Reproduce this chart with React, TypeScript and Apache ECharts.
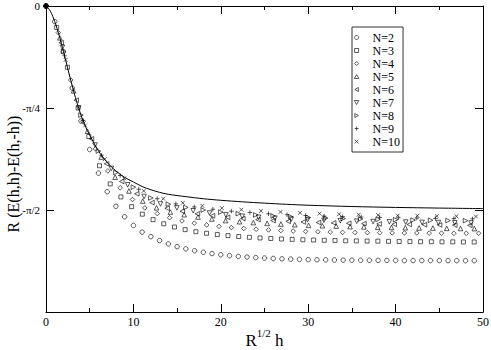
import React, { useEffect, useRef } from "react";
import * as echarts from "echarts";

// ---------- data ----------
const X_MIN = 0;
const X_MAX = 50;
const X_STEP = 10;
const Q = Math.PI / 4;
const Y_MIN = -3 * Q;
const Y_MAX = 0;
// labels for y ticks at -3π/4, -π/2, -π/4, 0
const Y_TICK_LABELS = ["", "-π/2", "-π/4", "0"];

const CURVE_X = [0, 0.5, 1, 1.5, 2, 2.5, 3, 3.5, 4, 4.5, 5, 6, 7, 8, 9, 10, 11, 12, 13, 14, 16, 18, 20, 22.5, 25, 27.5, 30, 35, 40, 45, 50];
const CURVE_Y = [0, -0.04, -0.12, -0.225, -0.35, -0.485, -0.615, -0.735, -0.84, -0.925, -0.995, -1.115, -1.205, -1.27, -1.32, -1.355, -1.39, -1.415, -1.435, -1.45, -1.468, -1.484, -1.496, -1.508, -1.518, -1.527, -1.534, -1.544, -1.551, -1.556, -1.56];

const N2_X = [1, 2, 3, 4, 5, 6, 7, 8, 9, 10, 11, 12, 13, 14, 15, 16, 17, 18, 19, 20, 21, 22, 23, 24, 25, 26, 27, 28, 29, 30, 31, 32, 33, 34, 35, 36, 37, 38, 39, 40, 41, 42, 43, 44, 45, 46, 47, 48, 49];
const N2_Y = [-0.12, -0.352, -0.632, -0.885, -1.105, -1.287, -1.43, -1.542, -1.623, -1.69, -1.741, -1.776, -1.806, -1.832, -1.853, -1.87, -1.884, -1.896, -1.906, -1.915, -1.922, -1.928, -1.933, -1.937, -1.941, -1.944, -1.947, -1.949, -1.951, -1.953, -1.954, -1.955, -1.956, -1.957, -1.957, -1.958, -1.958, -1.959, -1.959, -1.959, -1.96, -1.96, -1.96, -1.96, -1.96, -1.961, -1.961, -1.961, -1.961];

const N3_X = [1.22, 2.45, 3.67, 4.9, 6.12, 7.35, 8.57, 9.8, 11.02, 12.25, 13.47, 14.7, 15.92, 17.15, 18.37, 19.6, 20.82, 22.05, 23.27, 24.49, 25.72, 26.94, 28.17, 29.39, 30.62, 31.84, 33.07, 34.29, 35.51, 36.74, 37.97, 39.19, 40.41, 41.64, 42.86, 44.09, 45.31, 46.54, 47.76, 48.99];
const N3_Y = [-0.165, -0.472, -0.785, -1.005, -1.23, -1.37, -1.47, -1.545, -1.603, -1.645, -1.677, -1.702, -1.722, -1.738, -1.75, -1.76, -1.768, -1.775, -1.781, -1.786, -1.79, -1.794, -1.797, -1.8, -1.802, -1.804, -1.806, -1.808, -1.809, -1.81, -1.811, -1.812, -1.813, -1.814, -1.815, -1.815, -1.816, -1.816, -1.817, -1.817];

const N4_X = [1.41, 2.83, 4.24, 5.66, 7.07, 8.49, 9.9, 11.31, 12.73, 14.14, 15.56, 16.97, 18.38, 19.8, 21.21, 22.63, 24.04, 25.46, 26.87, 28.28, 29.7, 31.11, 32.53, 33.94, 35.36, 36.77, 38.18, 39.6, 41.01, 42.43, 43.84, 45.25, 46.67, 48.08, 49.5];
const N4_Y = [-0.205, -0.57, -0.89, -1.1, -1.27, -1.4, -1.49, -1.555, -1.598, -1.63, -1.655, -1.672, -1.686, -1.697, -1.706, -1.713, -1.719, -1.724, -1.729, -1.733, -1.736, -1.739, -1.741, -1.743, -1.744, -1.745, -1.746, -1.747, -1.748, -1.748, -1.749, -1.749, -1.75, -1.75, -1.75];

const N5_X = [1.58, 3.16, 4.74, 6.32, 7.91, 9.49, 11.07, 12.65, 14.23, 15.81, 17.39, 18.97, 20.55, 22.14, 23.72, 25.3, 26.88, 28.46, 30.04, 31.62, 33.2, 34.79, 36.37, 37.95, 39.53, 41.11, 42.69, 44.27, 45.85, 47.43, 49.01];
const N5_Y = [-0.245, -0.653, -0.964, -1.163, -1.318, -1.424, -1.502, -1.554, -1.587, -1.607, -1.625, -1.64, -1.652, -1.661, -1.668, -1.674, -1.679, -1.684, -1.689, -1.692, -1.695, -1.699, -1.701, -1.703, -1.705, -1.707, -1.709, -1.71, -1.712, -1.713, -1.714];

const N6_X = [1.73, 3.46, 5.2, 6.93, 8.66, 10.39, 12.12, 13.86, 15.59, 17.32, 19.05, 20.78, 22.52, 24.25, 25.98, 27.71, 29.44, 31.18, 32.91, 34.64, 36.37, 38.11, 39.84, 41.57, 43.3, 45.03, 46.77, 48.5];
const N6_Y = [-0.283, -0.725, -1.023, -1.215, -1.351, -1.446, -1.514, -1.557, -1.58, -1.6, -1.615, -1.627, -1.637, -1.645, -1.652, -1.658, -1.663, -1.667, -1.67, -1.673, -1.676, -1.678, -1.681, -1.682, -1.684, -1.686, -1.687, -1.689];

const N7_X = [1.87, 3.74, 5.61, 7.48, 9.35, 11.22, 13.1, 14.97, 16.84, 18.71, 20.58, 22.45, 24.32, 26.19, 28.06, 29.93, 31.8, 33.67, 35.55, 37.42, 39.29, 41.16, 43.03, 44.9, 46.77, 48.64];
const N7_Y = [-0.318, -0.785, -1.071, -1.251, -1.377, -1.467, -1.524, -1.555, -1.577, -1.594, -1.608, -1.619, -1.627, -1.634, -1.641, -1.646, -1.65, -1.653, -1.657, -1.66, -1.662, -1.664, -1.666, -1.668, -1.669, -1.671];

const N8_X = [2, 4, 6, 8, 10, 12, 14, 16, 18, 20, 22, 24, 26, 28, 30, 32, 34, 36, 38, 40, 42, 44, 46, 48];
const N8_Y = [-0.35, -0.84, -1.117, -1.282, -1.395, -1.478, -1.526, -1.551, -1.571, -1.587, -1.599, -1.609, -1.617, -1.623, -1.629, -1.633, -1.637, -1.64, -1.643, -1.646, -1.648, -1.65, -1.652, -1.653];

const N9_X = [2.12, 4.24, 6.36, 8.49, 10.61, 12.73, 14.85, 16.97, 19.09, 21.21, 23.33, 25.46, 27.58, 29.7, 31.82, 33.94, 36.06, 38.18, 40.31, 42.43, 44.55, 46.67, 48.79];
const N9_Y = [-0.383, -0.881, -1.149, -1.305, -1.411, -1.484, -1.524, -1.547, -1.565, -1.58, -1.59, -1.6, -1.607, -1.613, -1.618, -1.622, -1.625, -1.628, -1.631, -1.633, -1.636, -1.637, -1.639];

const N10_X = [2.24, 4.47, 6.71, 8.94, 11.18, 13.42, 15.65, 17.89, 20.12, 22.36, 24.6, 26.83, 29.07, 31.3, 33.54, 35.78, 38.01, 40.25, 42.49, 44.72, 46.96, 49.19];
const N10_Y = [-0.415, -0.92, -1.18, -1.326, -1.424, -1.484, -1.516, -1.539, -1.556, -1.568, -1.578, -1.586, -1.593, -1.599, -1.603, -1.607, -1.61, -1.613, -1.615, -1.618, -1.619, -1.621];

const SERIES_NAMES = ["N=2", "N=3", "N=4", "N=5", "N=6", "N=7", "N=8", "N=9", "N=10"];
const SERIES_X = [N2_X, N3_X, N4_X, N5_X, N6_X, N7_X, N8_X, N9_X, N10_X];
const SERIES_Y = [N2_Y, N3_Y, N4_Y, N5_Y, N6_Y, N7_Y, N8_Y, N9_Y, N10_Y];

// ---------- styles ----------
const FONT = "'Liberation Serif', 'Times New Roman', serif";
const SQUARE = "path://M-1,-1L1,-1L1,1L-1,1Z";
const DIAMOND = "path://M0,-1L1,0L0,1L-1,0Z";
const TRI_UP = "path://M0,-1L1,0.8L-1,0.8Z";
const TRI_LEFT = "path://M-1,0L0.8,-1L0.8,1Z";
const TRI_DOWN = "path://M0,1L1,-0.8L-1,-0.8Z";
const TRI_RIGHT = "path://M1,0L-0.8,-1L-0.8,1Z";
const PLUS = "path://M0,-1L0,1M-1,0L1,0";
const CROSS = "path://M-1,-1L1,1M-1,1L1,-1";
const MARKERS: { symbol: string; size: number }[] = [
  { symbol: "circle", size: 4.5 },
  { symbol: SQUARE, size: 4 },
  { symbol: DIAMOND, size: 4.6 },
  { symbol: TRI_UP, size: 4.6 },
  { symbol: TRI_LEFT, size: 4.6 },
  { symbol: TRI_DOWN, size: 4.6 },
  { symbol: TRI_RIGHT, size: 4.6 },
  { symbol: PLUS, size: 4.5 },
  { symbol: CROSS, size: 3.8 },
];
const OPEN_STYLE = { color: "rgba(255,255,255,0)", borderColor: "#000", borderWidth: 0.8 };

export default function App() {
  const ref = useRef<HTMLDivElement>(null);

  useEffect(() => {
    document.body.style.margin = "0";
    const chart = echarts.init(ref.current!, null, { renderer: "svg" });

    const tickStyle = { color: "#000", width: 1 };
    const baseX = {
      type: "value",
      min: X_MIN,
      max: X_MAX,
      interval: X_STEP,
      splitLine: { show: false },
      axisLine: { show: true, onZero: false, lineStyle: tickStyle },
      axisTick: { show: true, inside: true, length: 8, lineStyle: tickStyle },
      minorTick: { show: true, splitNumber: 2, length: 4, lineStyle: tickStyle },
    };
    const baseY = {
      type: "value",
      min: Y_MIN,
      max: Y_MAX,
      interval: Q,
      splitLine: { show: false },
      axisLine: { show: true, onZero: false, lineStyle: tickStyle },
      axisTick: { show: true, inside: true, length: 8, lineStyle: tickStyle },
    };

    const scatterSeries = SERIES_NAMES.map((name, i) => ({
      name,
      type: "scatter",
      xAxisIndex: 0,
      yAxisIndex: 0,
      symbol: MARKERS[i].symbol,
      symbolSize: MARKERS[i].size,
      itemStyle: OPEN_STYLE,
      emphasis: { disabled: true },
      data: SERIES_X[i].map((x, j) => [x, SERIES_Y[i][j]]),
      z: 3,
    }));

    const curveData: any[] = CURVE_X.map((x, j) => [x, CURVE_Y[j]]);
    curveData[0] = {
      value: curveData[0],
      symbol: "circle",
      symbolSize: 5,
      itemStyle: { color: "#000", borderColor: "#000" },
    };

    chart.setOption({
      animation: false,
      backgroundColor: "#fff",
      grid: { left: 46, right: 8, top: 6, bottom: 38, containLabel: false, outerBoundsMode: "none" },
      legend: {
        orient: "vertical",
        left: 352,
        top: 27,
        padding: [4, 3, 4, 2],
        itemGap: 0,
        itemWidth: 22,
        itemHeight: 4,
        symbolKeepAspect: true,
        borderColor: "#333",
        borderWidth: 1,
        backgroundColor: "#fff",
        selectedMode: false,
        textStyle: { fontFamily: FONT, fontSize: 12, color: "#000", lineHeight: 13 },
        data: SERIES_NAMES.map((name, i) => ({
          name,
          icon: MARKERS[i].symbol,
          itemStyle: OPEN_STYLE,
        })),
      },
      xAxis: [
        {
          ...baseX,
          position: "bottom",
          axisLabel: { color: "#000", fontFamily: FONT, fontSize: 12, margin: 4 },
          name: "{r|R}{s|1/2}{r| h}",
          nameLocation: "middle",
          nameGap: 15,
          nameMoveOverlap: false,
          nameTextStyle: {
            rich: {
              r: { fontFamily: FONT, fontSize: 17, color: "#000", verticalAlign: "bottom", lineHeight: 22 },
              s: { fontFamily: FONT, fontSize: 11, color: "#000", verticalAlign: "top", lineHeight: 11 },
            },
          },
        },
        {
          ...baseX,
          position: "top",
          axisLabel: { show: false },
        },
      ],
      yAxis: [
        {
          ...baseY,
          position: "left",
          axisLabel: {
            color: "#000",
            fontFamily: FONT,
            fontSize: 11,
            margin: 6,
            formatter: (v: number) => Y_TICK_LABELS[Math.round((v - Y_MIN) / Q)] ?? "",
          },
          name: "R (E(h,h)-E(h,-h))",
          nameLocation: "middle",
          nameGap: 25,
          nameMoveOverlap: false,
          nameTextStyle: { fontFamily: FONT, fontSize: 16, color: "#000", padding: [0, 30, 0, 0] },
        },
        {
          ...baseY,
          position: "right",
          axisLabel: { show: false },
        },
      ],
      series: [
        {
          name: "limit",
          type: "line",
          xAxisIndex: 0,
          yAxisIndex: 0,
          smooth: 0.3,
          symbol: "none",
          showSymbol: true,
          lineStyle: { color: "#000", width: 1 },
          itemStyle: { color: "#000" },
          emphasis: { disabled: true },
          data: curveData,
          z: 2,
        },
        ...scatterSeries,
      ],
    });

    return () => chart.dispose();
  }, []);

  return <div ref={ref} style={{ width: 491, height: 350 }} />;
}
